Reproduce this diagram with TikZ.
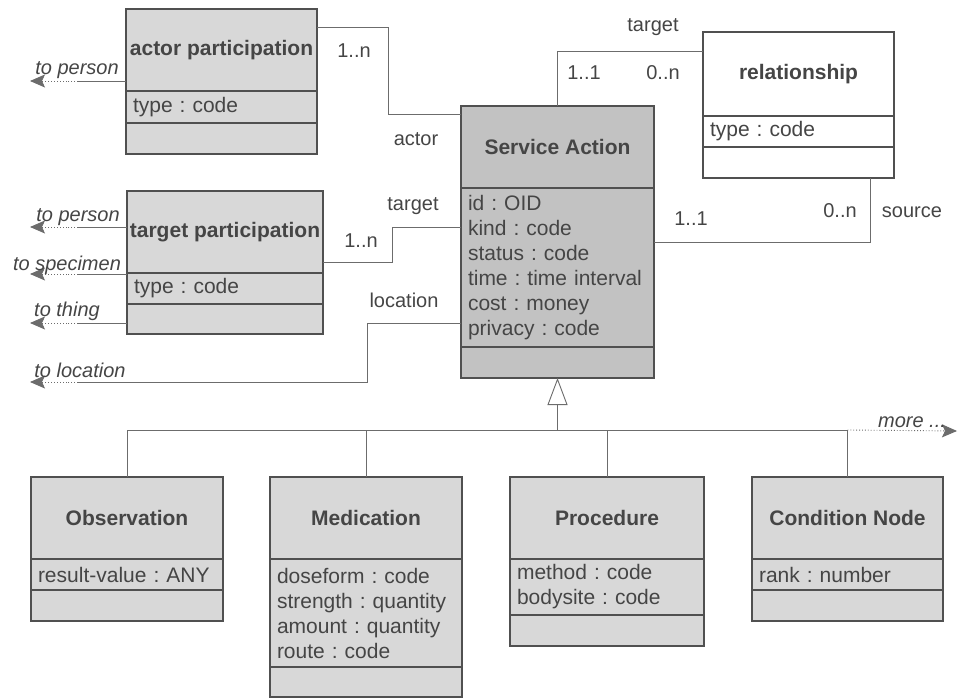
\documentclass[tikz,border=0pt]{standalone}
\usepackage{fontspec}
\setmainfont{Liberation Sans}
\usetikzlibrary{arrows.meta}
\frenchspacing
\hyphenpenalty=10000

\definecolor{ink}{HTML}{454545}
\definecolor{rule}{HTML}{505050}
\definecolor{wirec}{HTML}{6C6C6C}
\definecolor{paper}{HTML}{D8D8D8}
\definecolor{paperdark}{HTML}{C2C2C2}

\tikzset{
  boxbase/.style={draw=rule, line width=1.5pt, inner sep=0pt, outer sep=0pt,
    anchor=north west, text=ink},
  titlebox/.style={boxbase, fill=paper, font=\fontsize{21pt}{25pt}\selectfont\bfseries},
  attrbox/.style={boxbase, fill=paper, align=left, inner xsep=7pt,
    font=\fontsize{21pt}{25pt}\selectfont},
  opsbox/.style={boxbase, fill=paper},
  lbl/.style={text=ink, inner sep=0pt, anchor=base, font=\fontsize{20pt}{24pt}\selectfont},
  ilbl/.style={lbl, font=\fontsize{20pt}{24pt}\selectfont\itshape},
  wire/.style={draw=wirec, line width=0.9pt},
  dotline/.style={draw=wirec, line width=0.9pt, dotted,
    -{Stealth[length=15pt, width=13pt, inset=3pt, fill=wirec]}},
  genarrow/.style={draw=wirec, line width=0.9pt,
    -{Triangle[open, length=27pt, width=20pt, fill=white]}},
}

\begin{document}
\begin{tikzpicture}[x=1pt, y=-1pt]
\useasboundingbox (0,0) rectangle (958,698);

% ---------- classes ----------
% actor participation
\node[titlebox, minimum width=191pt, minimum height=82pt] (ap) at (126,9) {actor participation};
\node[attrbox, text width=177pt, minimum height=32pt] (apA) at (ap.south west) {type : code};
\node[opsbox, minimum width=191pt, minimum height=31pt] (apO) at (apA.south west) {};

% target participation
\node[titlebox, minimum width=196pt, minimum height=82pt] (tp) at (127,191) {target participation};
\node[attrbox, text width=182pt, minimum height=31pt] (tpA) at (tp.south west) {type : code};
\node[opsbox, minimum width=196pt, minimum height=30pt] (tpO) at (tpA.south west) {};

% relationship
\node[titlebox, fill=white, minimum width=191pt, minimum height=84pt] (rel) at (703,32) {relationship};
\node[attrbox, fill=white, text width=177pt, minimum height=31pt] (relA) at (rel.south west) {type : code};
\node[opsbox, fill=white, minimum width=191pt, minimum height=31pt] (relO) at (relA.south west) {};

% Service Action
\node[titlebox, fill=paperdark, minimum width=193pt, minimum height=82pt] (sa) at (461,106) {Service Action};
\node[attrbox, fill=paperdark, text width=179pt, minimum height=159pt] (saA) at (sa.south west)
  {id : OID\\kind : code\\status : code\\time : time interval\\cost : money\\privacy : code};
\node[opsbox, fill=paperdark, minimum width=193pt, minimum height=31pt] (saO) at (saA.south west) {};

% Observation
\node[titlebox, minimum width=192pt, minimum height=82pt] (obs) at (31,477) {Observation};
\node[attrbox, text width=178pt, minimum height=31pt] (obsA) at (obs.south west) {result-value : ANY};
\node[opsbox, minimum width=192pt, minimum height=31pt] (obsO) at (obsA.south west) {};

% Medication
\node[titlebox, minimum width=192pt, minimum height=82pt] (med) at (270,477) {Medication};
\node[attrbox, text width=178pt, minimum height=108pt] (medA) at (med.south west)
  {doseform : code\\strength : quantity\\amount : quantity\\route : code};
\node[opsbox, minimum width=192pt, minimum height=30pt] (medO) at (medA.south west) {};

% Procedure
\node[titlebox, minimum width=194pt, minimum height=82pt] (proc) at (510,477) {Procedure};
\node[attrbox, text width=180pt, minimum height=56pt] (procA) at (proc.south west)
  {method : code\\bodysite : code};
\node[opsbox, minimum width=194pt, minimum height=31pt] (procO) at (procA.south west) {};

% Condition Node
\node[titlebox, minimum width=191pt, minimum height=82pt] (cond) at (752,477) {Condition Node};
\node[attrbox, text width=177pt, minimum height=31pt] (condA) at (cond.south west) {rank : number};
\node[opsbox, minimum width=191pt, minimum height=31pt] (condO) at (condA.south west) {};

% ---------- bend points and free ends ----------
\coordinate (aBend)  at (388,114);
\coordinate (tBend)  at (392,262);
\coordinate (tBendU) at (392,227);
\coordinate (lBend)  at (367,323);
\coordinate (lBendD) at (367,382);
\coordinate (rBend)  at (557,51);
\coordinate (sBend)  at (870,242);
\coordinate (gJoin)  at (557.5,430);
\coordinate (moreEnd) at (957,431);

\coordinate (toPersonA)  at (30,81);   \coordinate (kneePA) at (78,81);
\coordinate (toPersonT)  at (30,227);  \coordinate (kneePT) at (78,227);
\coordinate (toSpecimen) at (30,274);  \coordinate (kneeS)  at (78,274);
\coordinate (toThing)    at (30,323);  \coordinate (kneeT)  at (78,323);
\coordinate (toLocation) at (30,382);  \coordinate (kneeL)  at (78,382);

% ---------- associations ----------
\draw[wire] ([yshift=-18pt]ap.north east) -| (aBend) -- (aBend -| sa.west);
\draw[wire] (tBend -| tp.east) -- (tBend) -- (tBendU) -- (tBendU -| saA.west);
\draw[wire] (lBend -| saA.west) -- (lBend) -- (lBendD) -- (kneeL);
\draw[dotline] (kneeL) -- (toLocation);
\draw[wire] (rBend |- sa.north) -- (rBend) -- (rBend -| rel.west);
\draw[wire] (sBend -| saA.east) -- (sBend) -- (sBend |- relO.south);

% outgoing references
\draw[wire] (kneePA -| ap.west) -- (kneePA);   \draw[dotline] (kneePA) -- (toPersonA);
\draw[wire] (kneePT -| tp.west) -- (kneePT);   \draw[dotline] (kneePT) -- (toPersonT);
\draw[wire] (kneeS -| tp.west) -- (kneeS);     \draw[dotline] (kneeS) -- (toSpecimen);
\draw[wire] (kneeT -| tpO.west) -- (kneeT);    \draw[dotline] (kneeT) -- (toThing);

% ---------- generalization ----------
\draw[genarrow] (gJoin) -- (saO.south);
\draw[wire] (gJoin -| obs.north) -- (gJoin -| cond.north);
\foreach \c in {obs,med,proc,cond}
  \draw[wire] (gJoin -| \c.north) -- (\c.north);
\draw[dotline] (gJoin -| cond.north) -- (moreEnd);

% ---------- labels ----------
\node[lbl] (mAp)   at (354,58)  {1..n};
\node[lbl] (rAct)  at (416,146) {actor};
\node[lbl] (rTgt)  at (413,210) {target};
\node[lbl] (mTp)   at (361,247) {1..n};
\node[lbl] (rLoc)  at (404,307) {location};
\node[lbl] (rTgtR) at (653,32)  {target};
\node[lbl] (mTopL) at (584,80)  {1..1};
\node[lbl] (mTopR) at (663,80)  {0..n};
\node[lbl] (mSrcL) at (691,225) {1..1};
\node[lbl] (mSrcR) at (840,217) {0..n};
\node[lbl] (rSrc)  at (912,217) {source};

\node[ilbl] (lPA)   at (77,75)   {to person};
\node[ilbl] (lPT)   at (78,221)  {to person};
\node[ilbl] (lSpec) at (67,270)  {to specimen};
\node[ilbl] (lThg)  at (67,316)  {to thing};
\node[ilbl] (lLoc)  at (80,377)  {to location};
\node[ilbl] (lMore) at (912,427) {more ...};
\end{tikzpicture}
\end{document}
